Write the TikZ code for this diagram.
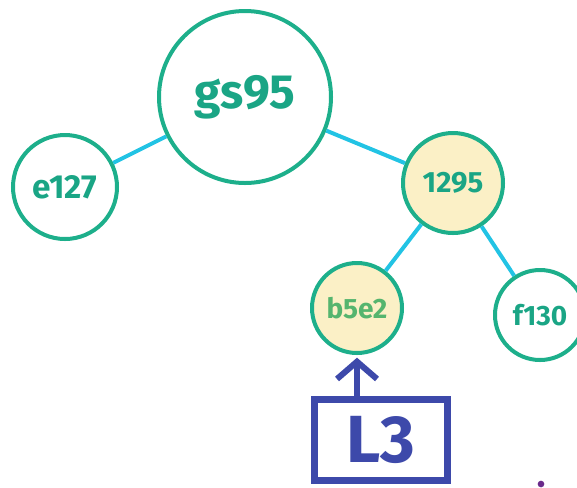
\documentclass[tikz,border=0pt]{standalone}
\usepackage{fontspec}
\setmainfont{Fira Sans}
\usetikzlibrary{arrows.meta}
\definecolor{tealc}{HTML}{1DAF8B}
\definecolor{txtc}{HTML}{1AA585}
\definecolor{lgreen}{HTML}{55B56E}
\definecolor{cyanc}{HTML}{22C3E4}
\definecolor{fillc}{HTML}{FBF0C6}
\definecolor{bluec}{HTML}{3D49AA}
\definecolor{purc}{HTML}{6A2A8A}
\tikzset{
  commit/.style={circle, draw=tealc, line width=3pt, inner sep=0pt, text=txtc, font=\bfseries},
  hl/.style={fill=fillc},
  link/.style={draw=cyanc, line width=3pt},
  ref/.style={draw=bluec, line width=5pt, text=bluec, font=\fontsize{50}{54}\selectfont\bfseries, minimum width=100pt, minimum height=61pt, inner sep=0pt},
  refarrow/.style={draw=bluec, line width=4.5pt, line cap=round, -{Straight Barb[length=13pt, width=30pt, line width=4.5pt]}}
}
\begin{document}
\begin{tikzpicture}[x=0.75pt,y=-0.75pt]
\useasboundingbox (0,0) rectangle (577,487);
\node[commit, minimum size=129pt, font=\fontsize{36}{40}\selectfont\bfseries] (g) at (245,97) {gs95};
\node[commit, minimum size=78pt, font=\fontsize{25}{28}\selectfont\bfseries] (e) at (65,187) {e127};
\node[commit, hl, minimum size=75pt, font=\fontsize{22}{26}\selectfont\bfseries] (a) at (453,183) {1295};
\node[commit, hl, minimum size=67.5pt, text=lgreen, font=\fontsize{21}{24}\selectfont\bfseries] (b) at (357,308) {b5e2};
\node[commit, minimum size=67.5pt, font=\fontsize{21}{24}\selectfont\bfseries] (f) at (540,315) {f130};
\draw[link] (g) -- (e);
\draw[link] (g) -- (a);
\draw[link] (a) -- (b);
\draw[link] (a) -- (f);
\node[ref] (L) at (381,440) {L3};
\draw[refarrow] ([yshift=-2pt]L.north -| b.south) -- ([yshift=-2pt]b.south);
\node[circle, fill=purc, inner sep=0pt, minimum size=5pt] (dot) at (541,484) {};
\end{tikzpicture}
\end{document}
